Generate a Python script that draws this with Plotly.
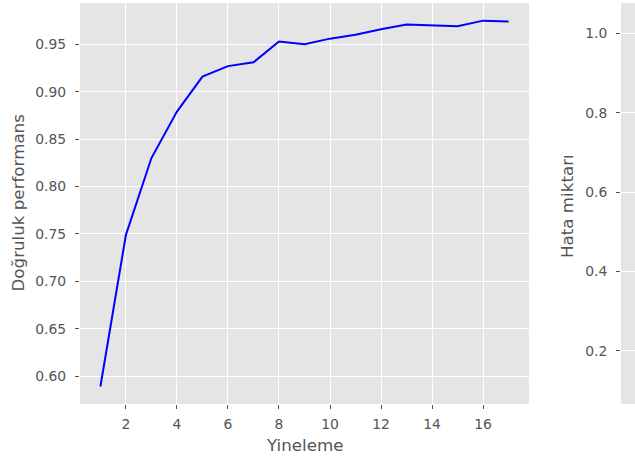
import plotly.graph_objects as go

iterations = list(range(1, 18))
accuracy = [0.589, 0.749, 0.830, 0.879, 0.916, 0.927, 0.931, 0.953, 0.950,
            0.956, 0.960, 0.966, 0.971, 0.970, 0.969, 0.975, 0.974]
x_ticks = [2, 4, 6, 8, 10, 12, 14, 16]
acc_ticks = [0.60, 0.65, 0.70, 0.75, 0.80, 0.85, 0.90, 0.95]
err_ticks = [0.2, 0.4, 0.6, 0.8, 1.0]

W, H = 635, 459
FONT = "DejaVu Sans"
GRAY = "#555555"
BG = "#E5E5E5"

fig = go.Figure()
fig.add_trace(go.Scatter(x=iterations, y=accuracy, mode="lines",
                         line=dict(color="#0000FF", width=2),
                         xaxis="x", yaxis="y", showlegend=False,
                         hoverinfo="skip"))
# empty trace for the second (cut-off) subplot
fig.add_trace(go.Scatter(x=[None], y=[None], xaxis="x2", yaxis="y2",
                         showlegend=False))

px_l, px_r = 80, 529
px_l2 = 621
top, bot = 3, 404

common_tick = dict(ticks="outside", ticklen=4, tickwidth=1, tickcolor=GRAY,
                   tickfont=dict(family=FONT, size=13.9, color=GRAY),
                   gridcolor="white", gridwidth=1, zeroline=False,
                   showline=False, automargin=False)


def py(pix):
    return (bot - pix) / (bot - top)


fig.update_layout(
    width=W, height=H,
    margin=dict(l=0, r=0, t=top, b=H - bot, autoexpand=False),
    paper_bgcolor="white",
    plot_bgcolor=BG,
    xaxis=dict(domain=[px_l / W, px_r / W], range=[0.2, 17.8],
               tickvals=x_ticks, anchor="y", ticklabelstandoff=3,
               **common_tick),
    yaxis=dict(domain=[0, 1], range=[0.5705, 0.9936], tickvals=acc_ticks,
               tickformat=".2f", anchor="x", ticklabelstandoff=6,
               **common_tick),
    xaxis2=dict(domain=[px_l2 / W, 1], range=[0, 1], anchor="y2",
                showticklabels=False, showgrid=False, ticks="",
                zeroline=False, showline=False, automargin=False),
    yaxis2=dict(domain=[0, 1], range=[0.0665, 1.076], tickvals=err_ticks,
                tickformat=".1f", anchor="x2", ticklabelstandoff=6,
                **common_tick),
    annotations=[
        dict(text="Yineleme", xref="paper", yref="paper",
             x=304.5 / W, y=py(445),
             xanchor="center", yanchor="middle", showarrow=False,
             font=dict(family=FONT, size=16.7, color=GRAY)),
        dict(text="Doğruluk performans", xref="paper", yref="paper",
             x=17 / W, y=py(203.5), textangle=-90,
             xanchor="center", yanchor="middle", showarrow=False,
             font=dict(family=FONT, size=16.7, color=GRAY)),
        dict(text="Hata miktarı", xref="paper", yref="paper",
             x=567 / W, y=py(206), textangle=-90,
             xanchor="center", yanchor="middle", showarrow=False,
             font=dict(family=FONT, size=16.7, color=GRAY)),
    ],
)

fig.write_html("out.html",
               config={"displayModeBar": False, "staticPlot": True},
               post_script="document.body.style.margin='0';"
                           "document.body.style.overflow='hidden';")
